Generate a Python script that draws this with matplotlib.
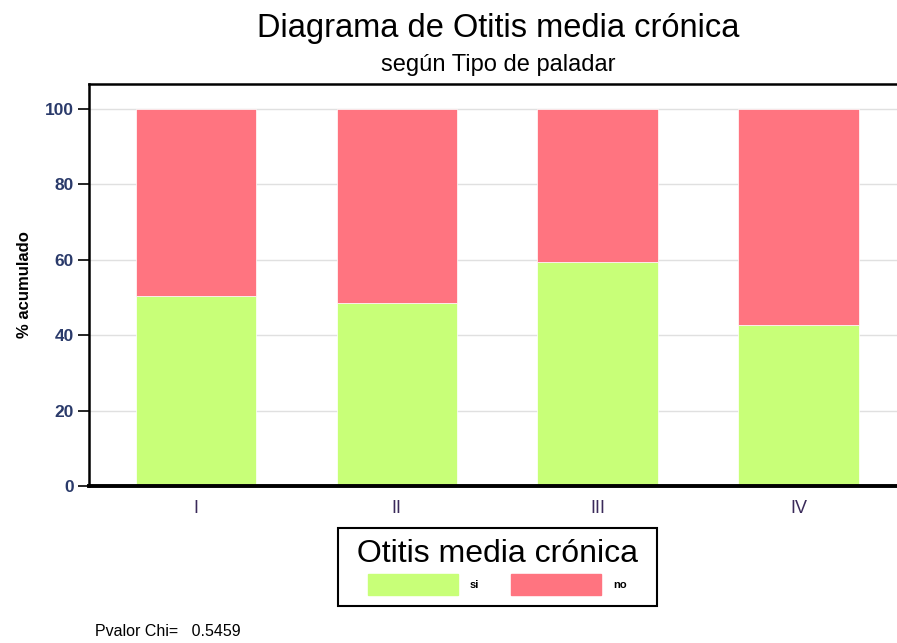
import numpy as np
import matplotlib
matplotlib.use("Agg")
import matplotlib.pyplot as plt
from matplotlib.patches import Patch

categorias = ["I", "II", "III", "IV"]
pct_si = [50.3, 48.4, 59.4, 42.8]
pct_no = [100 - v for v in pct_si]
series = ["si", "no"]
colores = ["#C8FF78", "#FF7480"]
pvalor = 0.5459

plt.rcParams["font.family"] = ["Liberation Sans", "DejaVu Sans"]

fig = plt.figure(figsize=(8.97, 6.43), dpi=100)
ax = fig.add_axes([89 / 897, 1 - 486 / 643, 1 - 89 / 897, (486 - 84) / 643])

x = np.arange(len(categorias))
ax.bar(x, pct_si, width=0.6, color=colores[0], edgecolor="white", linewidth=0.5, zorder=2)
ax.bar(x, pct_no, width=0.6, bottom=pct_si, color=colores[1], edgecolor="white", linewidth=0.5, zorder=2)

ax.set_xlim(-0.532, 3.49)
ax.set_ylim(0, 106.6)
ax.set_yticks([0, 20, 40, 60, 80, 100])
ax.set_xticks(x)
ax.set_xticklabels(categorias, fontsize=13, color="#3a2a5a")
ax.tick_params(axis="x", length=0, pad=10)
ax.tick_params(axis="y", length=8, width=1.2, labelsize=12.5, colors="black",
               labelcolor="#2a3a6a", pad=3)
for lbl in ax.get_yticklabels():
    lbl.set_fontweight("bold")
ax.grid(axis="y", color="#e0e0e0", linewidth=1, zorder=0)
ax.set_axisbelow(True)

for s in ["left", "top"]:
    ax.spines[s].set_linewidth(1.8)
ax.spines["bottom"].set_linewidth(2.8)
ax.spines["right"].set_visible(False)

ax.set_ylabel("% acumulado", fontsize=12, fontweight="bold", labelpad=9)

fig.text(0.555, 1 - 28 / 643, "Diagrama de Otitis media crónica", ha="center", va="center", fontsize=23.5)
fig.text(0.555, 1 - 65 / 643, "según Tipo de paladar", ha="center", va="center", fontsize=17)

handles = [Patch(facecolor=c, edgecolor=c) for c in colores]
leg = fig.legend(handles, series, loc="center", bbox_to_anchor=(497.5 / 897, 1 - 567 / 643),
                 ncol=2, title=" Otitis media crónica ", title_fontsize=23,
                 prop={"size": 8, "weight": "bold"}, handlelength=8.1, handleheight=2.5,
                 columnspacing=2.9, handletextpad=1.1, fancybox=False, framealpha=1,
                 edgecolor="black", borderpad=0.95)
leg.get_frame().set_linewidth(1.5)

fig.text(95 / 897, 1 - 632 / 643, "Pvalor Chi=   %.4f" % pvalor, ha="left", va="center", fontsize=11.5)

fig.savefig("out.png", dpi=100)
